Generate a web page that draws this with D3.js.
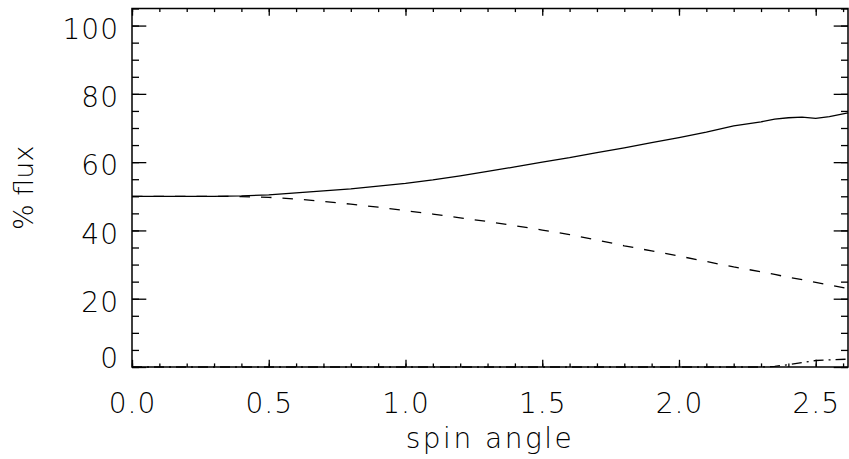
<!DOCTYPE html>
<html>
<head>
<meta charset="utf-8">
<script src="https://cdn.jsdelivr.net/npm/d3@7"></script>
<style>
  body { margin: 0; background: #fff; }
  text { font-family: "DejaVu Sans", sans-serif; font-weight: 200; fill: #000; }
</style>
</head>
<body>
<div id="plot"></div>
<script>
// Data
const spinAngle = [0, 0.1, 0.2, 0.3, 0.4, 0.5, 0.6, 0.7, 0.8, 0.9, 1.0, 1.1, 1.2, 1.3, 1.4, 1.5,
  1.6, 1.7, 1.8, 1.9, 2.0, 2.1, 2.2, 2.3, 2.35, 2.4, 2.45, 2.5, 2.55, 2.618];
const fluxSolid = [50, 50, 50, 50, 50.1, 50.4, 51, 51.6, 52.2, 53, 53.8, 54.8, 56, 57.3, 58.6, 60,
  61.3, 62.8, 64.2, 65.7, 67.2, 68.8, 70.6, 71.8, 72.6, 73.0, 73.2, 72.8, 73.3, 74.4];
const fluxDashed = [50, 50, 50, 50, 49.9, 49.7, 49.2, 48.5, 47.7, 46.8, 45.8, 44.8, 43.7, 42.6, 41.4, 40.1,
  38.8, 37.2, 35.5, 34.0, 32.5, 30.9, 29.3, 27.9, 27.1, 26.3, 25.6, 24.8, 24.0, 23.0];
const fluxDashDot = [0, 0, 0, 0, 0, 0, 0, 0, 0, 0, 0, 0, 0, 0, 0, 0,
  0, 0, 0, 0, 0, 0, 0, 0, 0.2, 0.7, 1.3, 1.9, 2.1, 2.3];
const xTicks = [0, 0.5, 1.0, 1.5, 2.0, 2.5];
const yTicks = [0, 20, 40, 60, 80, 100];

const W = 849, H = 459;
const margin = { top: 8.5, right: 1, bottom: 92, left: 132 };
const x0 = margin.left, x1 = W - margin.right;
const y0 = H - margin.bottom, y1 = margin.top;

const x = d3.scaleLinear().domain([0, 2.618]).range([x0, x1]);
const y = d3.scaleLinear().domain([0, 105]).range([y0, y1]);

const svg = d3.select("#plot").append("svg")
  .attr("width", W).attr("height", H);

const xMinor = d3.range(0, 2.62, 0.1).map(v => +v.toFixed(1));
const yMinor = d3.range(0, 106, 5);

// minor ticks on all four sides
svg.append("g").attr("transform", `translate(0,${y0})`)
  .call(d3.axisBottom(x).tickValues(xMinor).tickSizeInner(-3.6).tickSizeOuter(0).tickFormat(""));
svg.append("g").attr("transform", `translate(0,${y1})`)
  .call(d3.axisTop(x).tickValues(xMinor).tickSizeInner(-3.6).tickSizeOuter(0).tickFormat(""));
svg.append("g").attr("transform", `translate(${x0},0)`)
  .call(d3.axisLeft(y).tickValues(yMinor).tickSizeInner(-7).tickSizeOuter(0).tickFormat(""));
svg.append("g").attr("transform", `translate(${x1},0)`)
  .call(d3.axisRight(y).tickValues(yMinor).tickSizeInner(-7).tickSizeOuter(0).tickFormat(""));

// major ticks with labels
const xAxis = svg.append("g").attr("transform", `translate(0,${y0})`)
  .call(d3.axisBottom(x).tickValues(xTicks).tickSizeInner(-7.2).tickSizeOuter(0)
    .tickPadding(25).tickFormat(d3.format(".1f")));
svg.append("g").attr("transform", `translate(0,${y1})`)
  .call(d3.axisTop(x).tickValues(xTicks).tickSizeInner(-7.2).tickSizeOuter(0).tickFormat(""));
const yAxis = svg.append("g").attr("transform", `translate(${x0},0)`)
  .call(d3.axisLeft(y).tickValues(yTicks).tickSizeInner(-14.3).tickSizeOuter(0)
    .tickPadding(13).tickFormat(d3.format("d")));
svg.append("g").attr("transform", `translate(${x1},0)`)
  .call(d3.axisRight(y).tickValues(yTicks).tickSizeInner(-14.3).tickSizeOuter(0).tickFormat(""));

svg.selectAll(".domain").remove();
svg.selectAll(".tick line").attr("stroke", "#000").attr("stroke-width", 1.3);
svg.selectAll(".tick text").attr("font-size", 28).attr("font-family", null).attr("letter-spacing", 1);
xAxis.selectAll(".tick text").attr("dy", "0.74em");
yAxis.selectAll(".tick text").attr("dy", d => d === 0 ? "0.0em" : "0.45em");

// frame
svg.append("rect")
  .attr("x", x0).attr("y", y1)
  .attr("width", x1 - x0).attr("height", y0 - y1)
  .attr("fill", "none").attr("stroke", "#000").attr("stroke-width", 1.5);

// curves
const series = [
  { values: fluxSolid, dash: null },
  { values: fluxDashed, dash: "10.5,11" },
  { values: fluxDashDot, dash: "10,5,2,5" }
];
const line = d3.line().x(d => x(d[0])).y(d => y(d[1]));
svg.append("g").selectAll("path")
  .data(series)
  .join("path")
  .attr("d", s => line(spinAngle.map((a, i) => [a, s.values[i]])))
  .attr("fill", "none")
  .attr("stroke", "#000")
  .attr("stroke-width", 1.3)
  .attr("stroke-dasharray", s => s.dash);

// axis titles
svg.append("text")
  .attr("x", (x0 + x1) / 2).attr("y", 448)
  .attr("text-anchor", "middle").attr("font-size", 28)
  .attr("letter-spacing", 2.5)
  .text("spin angle");
svg.append("text")
  .attr("transform", `translate(33,${(y0 + y1) / 2}) rotate(-90)`)
  .attr("text-anchor", "middle").attr("font-size", 27)
  .text("% flux");
</script>
</body>
</html>
